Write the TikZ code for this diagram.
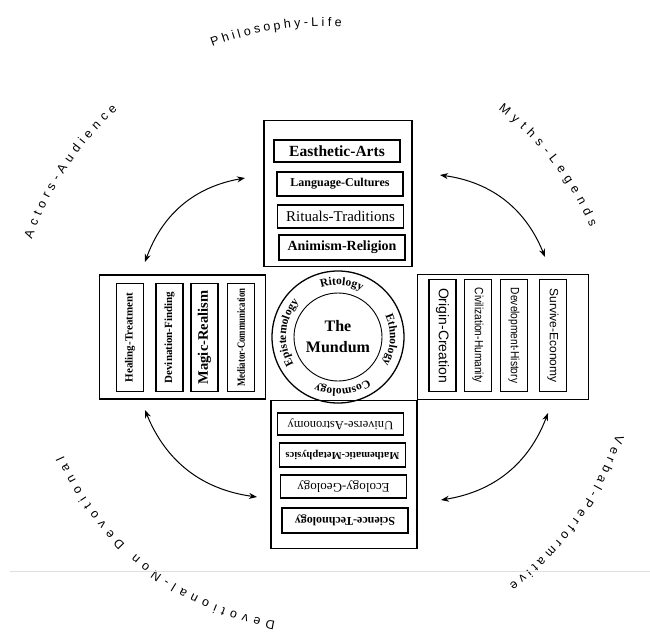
\documentclass[tikz,border=0pt]{standalone}
\usepackage{fontspec}
\setmainfont{Liberation Serif}
\setsansfont{Liberation Sans}
\usetikzlibrary{arrows.meta,positioning,calc,decorations.text}

\newcommand{\fsz}[1]{\fontsize{#1}{#1}\selectfont}

\begin{document}
\begin{tikzpicture}[x=1pt, y=1pt,
    panel/.style={draw, line width=1.1pt, inner sep=0pt},
    hbox/.style={draw, line width=1.3pt, inner sep=0pt, minimum width=126, minimum height=23},
    vbox/.style={draw, line width=1.3pt, inner sep=0pt, minimum width=108, minimum height=27},
    link/.style={<->, >={Stealth[length=8pt, width=6pt]}, line width=1pt, bend left=30},
    ringtext/.style={decorate, decoration={text along path, text align=center, text={|\bfseries\fsz{11.5}|#1}}},
    outertext/.style={decorate, decoration={text along path, text align=fit to path, text={|\sffamily\fsz{12.5}|#1}}}
  ]
    \useasboundingbox (0,0) rectangle (650,-634);

    % Centre rings
    \node[circle, draw, line width=1.3pt, minimum size=132] (ring) at (338,-337) {};
    \node[circle, draw, line width=0.9pt, minimum size=88, align=center,
          font=\bfseries\fontsize{16}{21}\selectfont] (mundum) at (ring.center) {The\\Mundum};
    \path[ringtext=Ritology] ($(ring.center)+(146:52)$) arc[start angle=146, end angle=26, radius=52];
    \path[ringtext=Ethnology] ($(ring.center)+(57:52)$) arc[start angle=57, end angle=-63, radius=52];
    \path[ringtext=Cosmology] ($(ring.center)+(-25:52)$) arc[start angle=-25, end angle=-145, radius=52];
    \path[ringtext=Epistemology] ($(ring.center)+(235:52)$) arc[start angle=235, end angle=115, radius=52];

    % Four panels round the rings
    \node[panel, minimum width=148, minimum height=146, above=3pt of ring] (top) {};
    \node[panel, minimum width=146, minimum height=148, below=-4pt of ring, xshift=6pt] (bottom) {};
    \node[panel, minimum width=166, minimum height=124, left=5pt of ring] (left) {};
    \node[panel, minimum width=171, minimum height=125, right=12pt of ring] (right) {};

    % Boxes of the top panel
    \foreach \x/\y/\h/\fnt/\txt [count=\i] in {
        337/151/22/{\bfseries\fsz{15.5}}/Easthetic-Arts,
        340/184/24/{\bfseries\fsz{12}}/Language-Cultures,
        340.5/216.5/23/{\fsz{15}}/Rituals-Traditions,
        342/247.5/25/{\bfseries\fsz{14}}/Animism-Religion} {
        \node[hbox, minimum height=\h, font=\fnt] (top\i) at (\x,-\y) {\txt};
    }

    % Boxes of the bottom panel
    \foreach \x/\y/\h/\fnt/\txt [count=\i] in {
        340.5/424/22/{\fsz{12.5}}/Universe-Astronomy,
        342.5/455/24/{\bfseries\fsz{10.5}}/Mathematic-Metaphysics,
        343.5/486.5/23/{\fsz{13}}/Ecology-Geology,
        345/520.5/25/{\bfseries\fsz{12}}/Science-Technology} {
        \node[hbox, minimum height=\h, rotate=180, font=\fnt] (bot\i) at (\x,-\y) {\txt};
    }

    % Boxes of the left panel
    \foreach \x/\fnt/\txt [count=\i] in {
        130/{\bfseries\fsz{11}}/Healing-Treatment,
        169.5/{\bfseries\fsz{11}}/Devination-Finding,
        204.5/{\bfseries\fsz{14.5}}/Magic-Realism,
        241/{\bfseries\fsz{11}}/{\scalebox{0.8}[1]{Mediator-Communication}}} {
        \node[vbox, rotate=90, font=\fnt] (lft\i) at (\x,-337.5) {\txt};
    }

    % Boxes of the right panel
    \foreach \x/\fnt/\txt [count=\i] in {
        442.5/{\sffamily\fsz{14}}/Origin-Creation,
        478/{\sffamily\fsz{12}}/{\scalebox{0.85}[1]{Civilization-Humanity}},
        514/{\sffamily\fsz{12}}/{\scalebox{0.85}[1]{Development-History}},
        553/{\sffamily\fsz{12}}/Survive-Economy} {
        \node[vbox, minimum width=112, rotate=-90, font=\fnt] (rgt\i) at (\x,-335.5) {\txt};
    }

    % Curved arrows between panels
    \coordinate (nw1) at (145,-262);
    \coordinate (nw2) at (245,-178);
    \coordinate (ne1) at (440,-175);
    \coordinate (ne2) at (545,-257);
    \coordinate (se1) at (548,-413);
    \coordinate (se2) at (441,-500);
    \coordinate (sw1) at (257,-497);
    \coordinate (sw2) at (145,-410);
    \draw[link] (nw1) to (nw2);
    \draw[link] (ne1) to (ne2);
    \draw[link] (se1) to (se2);
    \draw[link] (sw1) to (sw2);

    % Outer labels
    \coordinate (hub) at (325,-340);
    \path[outertext=Philosophy-Life] ($(hub)+(111:314)$) arc[start angle=111, end angle=87, radius=314];
    \path[outertext=Actors-Audience] ($(hub)+(161:310)$) arc[start angle=161, end angle=132, radius=310];
    \path[outertext=Myths-Legends] ($(hub)+(53:288)$) arc[start angle=53, end angle=23, radius=288];
    \path[outertext=Verbal-Performative] ($(hub)+(-18:306)$) arc[start angle=-18, end angle=-53, radius=306];
    \path[outertext=Devotional-Non Devotional] ($(hub)+(-100:286)$) arc[start angle=-100, end angle=-156, radius=286];

    % Faint base line
    \draw[gray!25, line width=1pt] (10,-571) -- (650,-571);
\end{tikzpicture}
\end{document}
